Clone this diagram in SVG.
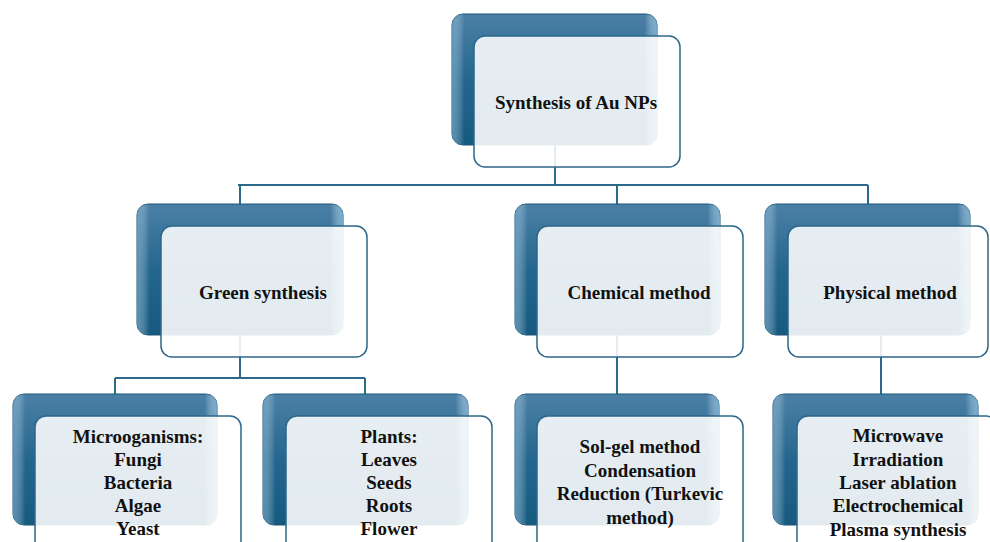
<svg xmlns="http://www.w3.org/2000/svg" width="990" height="542" viewBox="0 0 990 542">
<defs>
<linearGradient id="dk" x1="0" y1="0" x2="0" y2="1">
<stop offset="0" stop-color="#4b80a6"/>
<stop offset="0.5" stop-color="#25668e"/>
<stop offset="1" stop-color="#175a80"/>
</linearGradient>
<linearGradient id="dkh" x1="0" y1="0" x2="1" y2="0">
<stop offset="0" stop-color="#7fb3d3" stop-opacity="0.6"/>
<stop offset="0.06" stop-color="#ffffff" stop-opacity="0"/>
<stop offset="0.94" stop-color="#ffffff" stop-opacity="0"/>
<stop offset="1" stop-color="#8cc3e3" stop-opacity="0.7"/>
</linearGradient>
<style>
.c{fill:none;stroke:#2c6a8c;stroke-width:2}
.d{fill:url(#dk);stroke:#1b5676;stroke-width:1}
.h{fill:url(#dkh)}
.w{fill:#ffffff;fill-opacity:0.88;stroke:#2c6789;stroke-width:1.5}
.t{font-family:"Liberation Serif","Times New Roman",serif;font-weight:bold;font-size:19px;fill:#111;text-anchor:middle}
</style>
</defs>
<rect width="990" height="542" fill="#ffffff"/>
<g id="connectors">
<path class="c" d="M555,140 V185 M238,185 H868 M240,185 V210 M617,185 V210 M868,185 V210"/>
<path class="c" d="M240,330 V378 M115,378 H365 M115,378 V400 M365,378 V400"/>
<path class="c" d="M617,330 V400 M881,330 V400"/>
</g>
<g id="n-root">
<rect class="d" x="452" y="14" width="205" height="131" rx="11"/>
<rect class="h" x="452" y="14" width="205" height="131" rx="11"/>
<rect class="w" x="474" y="36" width="206" height="131" rx="11"/>
<text class="t" x="576" y="109">Synthesis of Au NPs</text>
</g>
<g id="n-green">
<rect class="d" x="137" y="204" width="206" height="131" rx="11"/>
<rect class="h" x="137" y="204" width="206" height="131" rx="11"/>
<rect class="w" x="161" y="226" width="206" height="131" rx="11"/>
<text class="t" x="263" y="299">Green synthesis</text>
</g>
<g id="n-chemical">
<rect class="d" x="515" y="204" width="205" height="131" rx="11"/>
<rect class="h" x="515" y="204" width="205" height="131" rx="11"/>
<rect class="w" x="537" y="226" width="206" height="131" rx="11"/>
<text class="t" x="639" y="299">Chemical method</text>
</g>
<g id="n-physical">
<rect class="d" x="765" y="204" width="205" height="131" rx="11"/>
<rect class="h" x="765" y="204" width="205" height="131" rx="11"/>
<rect class="w" x="788" y="226" width="200" height="131" rx="11"/>
<text class="t" x="890" y="299">Physical method</text>
</g>
<g id="n-micro">
<rect class="d" x="13" y="394" width="204" height="131" rx="11"/>
<rect class="h" x="13" y="394" width="204" height="131" rx="11"/>
<rect class="w" x="35" y="416" width="206" height="140" rx="11"/>
<text class="t" x="138" y="443">Microoganisms:</text>
<text class="t" x="138" y="466">Fungi</text>
<text class="t" x="138" y="489">Bacteria</text>
<text class="t" x="138" y="512">Algae</text>
<text class="t" x="138" y="535">Yeast</text>
</g>
<g id="n-plants">
<rect class="d" x="263" y="394" width="205" height="131" rx="11"/>
<rect class="h" x="263" y="394" width="205" height="131" rx="11"/>
<rect class="w" x="286" y="416" width="206" height="140" rx="11"/>
<text class="t" x="389" y="443">Plants:</text>
<text class="t" x="389" y="466">Leaves</text>
<text class="t" x="389" y="489">Seeds</text>
<text class="t" x="389" y="512">Roots</text>
<text class="t" x="389" y="535">Flower</text>
</g>
<g id="n-solgel">
<rect class="d" x="515" y="394" width="204" height="131" rx="11"/>
<rect class="h" x="515" y="394" width="204" height="131" rx="11"/>
<rect class="w" x="537" y="416" width="206" height="140" rx="11"/>
<text class="t" x="640" y="453">Sol-gel method</text>
<text class="t" x="640" y="477">Condensation</text>
<text class="t" x="640" y="500">Reduction (Turkevic</text>
<text class="t" x="640" y="524">method)</text>
</g>
<g id="n-phys-list">
<rect class="d" x="773" y="394" width="205" height="131" rx="11"/>
<rect class="h" x="773" y="394" width="205" height="131" rx="11"/>
<rect class="w" x="797" y="416" width="200" height="140" rx="11"/>
<text class="t" x="898" y="442">Microwave</text>
<text class="t" x="898" y="466">Irradiation</text>
<text class="t" x="898" y="489">Laser ablation</text>
<text class="t" x="898" y="512">Electrochemical</text>
<text class="t" x="898" y="536">Plasma synthesis</text>
</g>
</svg>
